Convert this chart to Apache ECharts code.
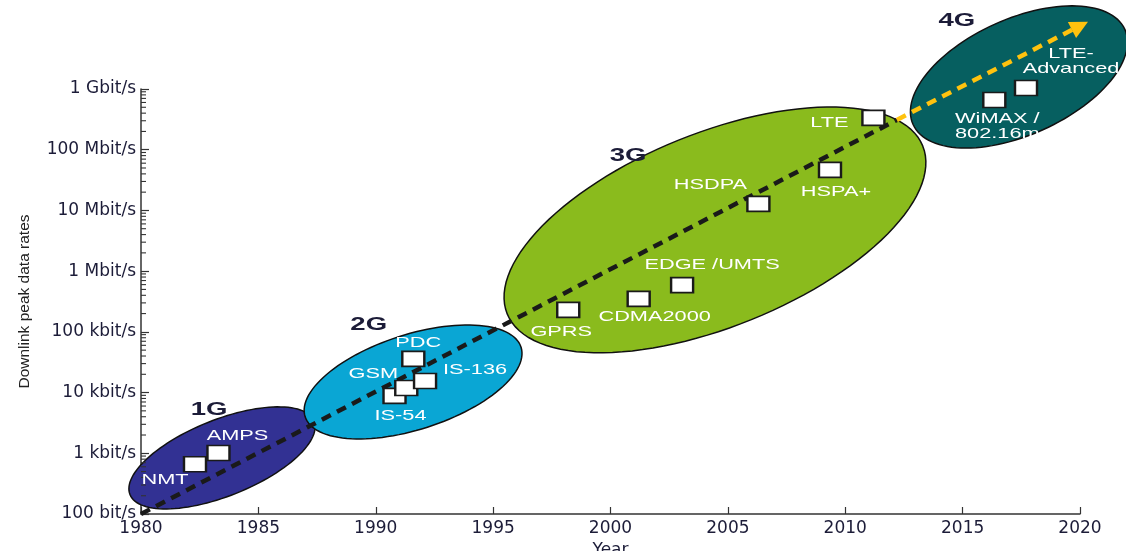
<!DOCTYPE html>
<html>
<head>
<meta charset="utf-8">
<title>Downlink peak data rates by generation</title>
<script src="https://cdn.jsdelivr.net/npm/echarts@6.0.0/dist/echarts.min.js"></script>
<style>
  html, body { margin: 0; padding: 0; background: #fff; }
  #chart { width: 1126px; height: 551px; }
</style>
</head>
<body>
<div id="chart"></div>
<script>
// axis ticks
const rateTickLabels = ['100 bit/s', '1 kbit/s', '10 kbit/s', '100 kbit/s', '1 Mbit/s', '10 Mbit/s', '100 Mbit/s', '1 Gbit/s'];

// generation regions: centre, end of long axis, end of short axis  [year, bit/s]
const generations = ['1G', '2G', '3G', '4G'];
const genCentre = [[1983.45, 840], [1991.59, 14960], [2004.45, 4.78e6], [2017.4, 1.58e9]];
const genMajorEnd = [[1987.37, 3380], [1996.19, 55700], [2013.3, 1.156e8], [2021.91, 9.6e9]];
const genMinorEnd = [[1984.05, 219], [1992.2, 2690], [2006.0, 1.59e5], [2018.42, 2.13e8]];
const genLabelAt = [[1982.9, 5200], [1989.7, 1.3e5], [2000.75, 7.9e7], [2014.75, 1.32e10]];

// technologies
const techNames = ['NMT', 'AMPS', 'IS-54', 'GSM', 'IS-136', 'PDC', 'GPRS', 'CDMA2000', 'EDGE /UMTS',
  'HSDPA', 'HSPA+', 'LTE', 'WiMAX /\n802.16m', 'LTE-\nAdvanced'];
const techYears = [1982.3, 1983.3, 1990.8, 1991.3, 1992.1, 1991.6, 1998.2, 2001.2, 2003.05,
  2006.3, 2009.35, 2011.2, 2016.35, 2017.7];
const techRates = [660, 1010, 8800, 11900, 15500, 35800, 2.3e5, 3.5e5, 5.9e5,
  1.28e7, 4.65e7, 3.35e8, 6.6e8, 1.04e9];

// trend
const trendStart = [1980, 100];
const trendSplit = [2012.2, 3.1e8];
const trendEnd = [2020.0, 1.1e10];

// styling
const genColors = ['#323193', '#0aa6d4', '#8abb1d', '#065f60'];
const labelOffset = [[-30, 16], [19, -17], [6, 20], [-33, -14], [50, -11], [5, -16], [-7, 22], [16, 18], [30, -20],
  [-48, -19], [6, 22], [-44, 5], [3, 26], [45, -27]];
const axisColor = '#333';
const textDark = '#1c1c38';

const minorTicks = [];
for (let d = 2; d < 2 + rateTickLabels.length - 1; d++) {
  for (let k = 2; k <= 9; k++) minorTicks.push([1980, k * Math.pow(10, d)]);
}

const chart = echarts.init(document.getElementById('chart'));

const option = {
  animation: false,
  grid: { left: 141, right: 46, top: 89, bottom: 37, containLabel: false, outerBoundsMode: 'none' },
  xAxis: {
    type: 'value',
    min: 1980,
    max: 2020,
    interval: 5,
    name: 'Year',
    nameLocation: 'middle',
    nameGap: 22,
    nameTextStyle: { fontFamily: 'DejaVu Sans', fontSize: 17, color: textDark },
    axisLine: { show: true, onZero: false, lineStyle: { color: axisColor, width: 1.5 } },
    axisTick: { show: true, inside: true, length: 7, lineStyle: { color: axisColor, width: 1.2 } },
    axisLabel: {
      margin: 6, fontFamily: 'DejaVu Sans', fontSize: 17, color: textDark,
      showMinLabel: true, showMaxLabel: true,
      formatter: v => String(v)
    },
    splitLine: { show: false }
  },
  yAxis: {
    type: 'log',
    logBase: 10,
    min: 100,
    max: 1e9,
    name: 'Downlink peak data rates',
    nameLocation: 'middle',
    nameGap: 108,
    nameRotate: 90,
    nameTextStyle: { fontFamily: 'Liberation Sans', fontSize: 15.5, color: '#222' },
    axisLine: { show: true, lineStyle: { color: axisColor, width: 1.5 } },
    axisTick: { show: true, inside: true, length: 8, lineStyle: { color: axisColor, width: 1.2 } },
    axisLabel: {
      margin: 5, fontFamily: 'DejaVu Sans', fontSize: 17, color: textDark,
      showMinLabel: true, showMaxLabel: true,
      formatter: v => rateTickLabels[Math.round(Math.log10(v)) - 2] || ''
    },
    splitLine: { show: false }
  },
  series: [
    {
      // minor log ticks
      type: 'custom',
      silent: true,
      z: 5,
      data: minorTicks,
      renderItem(params, api) {
        const p = api.coord([api.value(0), api.value(1)]);
        return { type: 'line', shape: { x1: p[0], y1: p[1], x2: p[0] + 5, y2: p[1] }, style: { stroke: axisColor, lineWidth: 1.1 } };
      }
    },
    {
      // generation ellipses
      type: 'custom',
      silent: true,
      clip: false,
      z: 1,
      data: generations.map((g, i) => [genCentre[i][0], genCentre[i][1], genMajorEnd[i][0], genMajorEnd[i][1],
        genMinorEnd[i][0], genMinorEnd[i][1], i]),
      encode: { x: 0, y: 1 },
      renderItem(params, api) {
        const c = api.coord([api.value(0), api.value(1)]);
        const a = api.coord([api.value(2), api.value(3)]);
        const b = api.coord([api.value(4), api.value(5)]);
        const idx = api.value(6);
        const pts = [];
        for (let k = 0; k < 120; k++) {
          const t = k / 120 * Math.PI * 2;
          pts.push([
            c[0] + (a[0] - c[0]) * Math.cos(t) + (b[0] - c[0]) * Math.sin(t),
            c[1] + (a[1] - c[1]) * Math.cos(t) + (b[1] - c[1]) * Math.sin(t)
          ]);
        }
        return {
          type: 'polygon',
          z2: idx === 2 ? 10 : idx,
          shape: { points: pts },
          style: { fill: genColors[idx], stroke: '#111', lineWidth: 1.5 }
        };
      }
    },
    {
      // generation names
      type: 'custom',
      silent: true,
      clip: false,
      z: 6,
      data: genLabelAt.map((p, i) => [p[0], p[1], i]),
      renderItem(params, api) {
        const p = api.coord([api.value(0), api.value(1)]);
        return {
          type: 'text', x: p[0], y: p[1], scaleX: 1.45,
          style: {
            text: generations[api.value(2)], fill: textDark,
            fontFamily: 'Liberation Sans', fontWeight: 'bold', fontSize: 19,
            align: 'center', verticalAlign: 'middle'
          }
        };
      }
    },
    {
      type: 'lines',
      coordinateSystem: 'cartesian2d',
      silent: true,
      clip: false,
      z: 2,
      symbol: ['none', 'none'],
      lineStyle: { color: '#1a1a1a', width: 4.5, type: [10, 7], opacity: 1 },
      data: [{ coords: [trendStart, trendSplit] }]
    },
    {
      type: 'lines',
      coordinateSystem: 'cartesian2d',
      silent: true,
      clip: false,
      z: 2,
      symbol: ['none', 'triangle'],
      symbolSize: 18,
      lineStyle: { color: '#ffc20e', width: 4.5, type: [10, 7], opacity: 1 },
      data: [{ coords: [trendSplit, trendEnd] }]
    },
    {
      // technology markers
      type: 'scatter',
      silent: true,
      clip: false,
      z: 3,
      symbol: 'rect',
      symbolSize: [22, 15],
      itemStyle: { color: '#fff', borderColor: '#1a1a1a', borderWidth: 2, opacity: 1 },
      data: techYears.map((y, i) => [y, techRates[i]])
    },
    {
      // technology names
      type: 'custom',
      silent: true,
      clip: false,
      z: 6,
      data: techYears.map((y, i) => [y, techRates[i], i]),
      renderItem(params, api) {
        const p = api.coord([api.value(0), api.value(1)]);
        const i = api.value(2);
        return {
          type: 'text', x: p[0] + labelOffset[i][0], y: p[1] + labelOffset[i][1], scaleX: 1.45,
          style: {
            text: techNames[i], fill: '#fff',
            fontFamily: 'Liberation Sans', fontSize: 15, lineHeight: 15,
            align: 'center', verticalAlign: 'middle'
          }
        };
      }
    }
  ]
};

chart.setOption(option);
</script>
</body>
</html>
